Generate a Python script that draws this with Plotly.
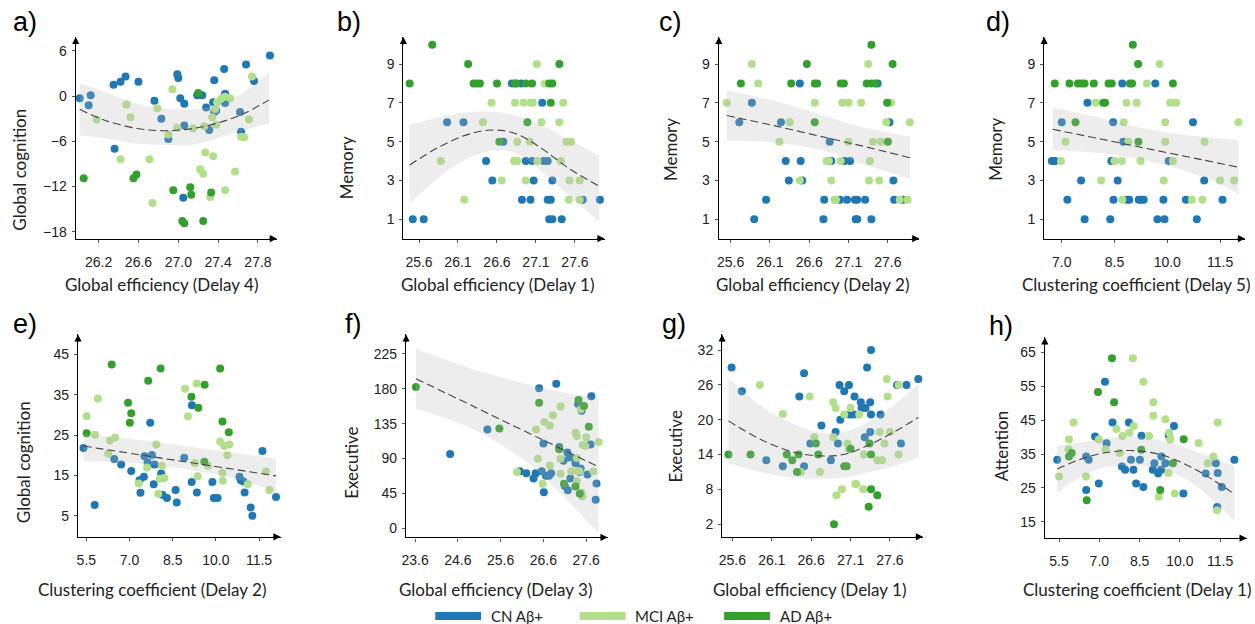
import plotly.graph_objects as go

W, H = 1255, 624
C_CN, C_MCI, C_AD = "#1f78b4", "#b2df8a", "#33a02c"

# ---------------- Panel a ----------------
a_cn_x = [26.01,26.10,26.12,26.35,26.42,26.47,26.60,26.36,26.76,26.83,26.90,26.99,27.00,27.02,27.06,27.06,27.05,27.19,27.24,27.28,27.31,27.35,27.36,27.36,27.46,27.47,27.47,27.62,27.63,27.68,27.76,27.92,27.38]
a_cn_y = [-0.3,-1.2,0.1,1.5,1.9,2.6,1.9,-7.0,-0.6,-3.0,-5.7,2.9,2.4,-0.3,-1.0,-3.9,-13.5,0.1,0.1,-1.5,-4.5,-0.8,2.1,-2.1,3.6,0.3,-0.9,-2.1,-4.75,4.2,2.0,5.4,-1.9]
a_mci_x = [26.18,26.48,26.52,26.42,26.71,26.74,26.79,26.90,26.94,26.99,27.15,27.22,27.25,27.26,27.27,27.32,27.34,27.35,27.37,27.38,27.39,27.43,27.47,27.52,27.57,27.47,27.63,27.66,27.71,27.74]
a_mci_y = [-3.1,-1.1,-2.8,-8.4,-8.4,-14.2,-1.6,-5.1,0.9,-4.2,-4.3,-9.7,-10.3,-4.0,-7.5,-13.4,-2.8,-8.0,-1.7,-3.8,-0.8,-0.4,-0.1,-0.3,-10.0,-12.5,-5.4,-5.5,-3.1,2.6]
a_ad_x = [26.05,26.55,26.58,26.95,27.04,27.06,27.12,27.13,27.20,27.25,27.33]
a_ad_y = [-10.9,-10.9,-10.4,-12.5,-16.6,-16.9,-12.1,-13.1,0.4,-16.6,-12.8]
a_fit_x = [26.01,26.26,26.59,26.86,27.12,27.39,27.66,27.91]
a_fit_y = [-1.74,-3.2,-4.3,-4.6,-4.35,-3.6,-2.3,-0.5]
a_hi = [1.66,0.56,-1.0,-1.65,-1.74,-1.2,0.56,3.1]
a_lo = [-5.2,-5.6,-6.3,-6.5,-6.5,-5.6,-4.5,-3.65]

# ---------------- Panel b ----------------
b_cn_x = [25.52,25.66,25.96,26.17,26.46,26.54,26.68,26.79,26.91,26.92,26.97,27.03,27.05,27.07,27.18,27.20,27.25,27.25,27.29,27.27,27.31,27.31,27.43,27.70,27.92]
b_cn_y = [1,1,6,6,4,3,5,8,8,2,4,2,4,3,7,4,4,2,2,1,1,3,1,2,2]
b_mci_x = [25.88,26.18,26.42,26.53,26.66,26.83,26.86,26.82,26.86,26.94,26.97,27.02,27.03,27.06,27.11,27.12,27.17,27.21,27.40,27.42,27.45,27.49,27.55,27.52,27.53,27.66,27.66]
b_mci_y = [4,2,6,7,3,7,5,4,4,7,3,5,7,7,9,4,6,8,6,4,7,5,5,2,3,2,3]
b_ad_x = [25.48,25.77,26.23,26.30,26.34,26.38,26.60,26.63,26.83,26.85,26.97,27.05,26.99,27.27,27.31,27.29,27.40]
b_ad_y = [8,10,9,8,8,8,8,5,8,8,8,8,6,8,8,7,9]
b_fit_x = [25.48,25.87,26.21,26.53,26.85,27.19,27.53,27.91]
b_fit_y = [3.8,4.75,5.35,5.6,5.4,4.6,3.6,2.7]
b_hi = [5.87,6.26,6.5,6.55,6.33,5.8,5.1,4.27]
b_lo = [1.8,3.2,4.1,4.55,4.4,3.4,2.2,0.9]

# ---------------- Panel c ----------------
c_cn_x = [25.71,25.87,25.90,26.05,26.24,26.30,26.34,26.48,26.49,26.51,26.78,26.79,26.86,26.88,26.99,27.05,27.12,27.08,27.18,27.21,27.19,27.21,27.31,27.39,27.47,27.62,27.67,27.68,27.79]
c_cn_y = [6,7,1,2,6,4,3,8,4,3,1,2,5,4,2,4,4,2,2,2,1,1,2,1,8,6,3,2,2]
c_mci_x = [25.55,25.87,25.95,26.22,26.35,26.48,26.67,26.82,26.85,26.88,26.92,26.94,27.00,27.02,27.10,27.10,27.26,27.35,27.36,27.37,27.41,27.49,27.51,27.58,27.64,27.75,27.85,27.88]
c_mci_y = [7,9,8,5,6,3,7,4,4,3,2,2,4,7,7,5,7,9,3,4,5,3,5,6,7,2,2,6]
c_ad_x = [25.73,26.37,26.57,26.67,26.70,26.67,27.00,27.04,27.33,27.39,27.44,27.39,27.59,27.60,27.66]
c_ad_y = [8,8,9,8,8,6,8,8,8,8,8,10,7,5,9]
c_fit_x = [25.55,26.19,26.82,27.24,27.88]
c_fit_y = [6.35,5.79,5.2,4.81,4.17]
c_hi = [7.64,7.07,6.3,5.78,5.27]
c_lo = [5.06,4.95,4.5,3.9,3.1]

# ---------------- Panel d ----------------
d_cn_x = [6.72,6.81,7.00,7.16,7.55,7.65,7.73,8.38,8.41,8.46,8.47,8.59,8.72,8.75,8.86,8.92,9.19,9.26,9.33,9.66,9.72,9.92,9.89,10.04,10.53,10.73,10.84,11.05,11.57]
d_cn_y = [4,4,6,2,3,1,7,1,4,6,2,3,8,5,2,2,2,2,2,8,1,1,2,4,2,6,1,3,2]
d_mci_x = [6.98,7.11,7.96,8.12,8.50,8.71,8.72,8.76,8.84,8.89,9.13,9.24,9.42,9.78,9.90,9.94,9.94,10.08,10.25,10.16,10.70,11.00,11.06,11.50,11.90,12.02]
d_mci_y = [4,5,7,3,4,4,2,6,7,5,7,4,8,9,3,6,5,7,7,4,2,2,5,3,3,6]
d_ad_x = [6.80,7.22,7.46,7.56,7.65,7.91,8.18,8.23,7.39,8.33,8.42,8.94,9.00,9.02,9.17,9.18,10.16]
d_ad_y = [8,8,8,8,8,8,7,7,6,8,8,8,8,10,9,5,8]
d_fit_x = [6.74,8.15,9.57,10.98,12.02]
d_fit_y = [5.64,5.12,4.59,4.07,3.68]
d_hi = [6.76,6.2,5.6,5.25,5.1]
d_lo = [4.56,4.4,3.95,3.2,2.3]

# ---------------- Panel e ----------------
e_cn_x = [5.40,5.79,6.47,6.71,7.06,7.35,7.38,7.50,7.52,7.63,7.72,7.78,7.84,7.87,8.10,8.14,8.30,8.60,8.64,8.90,9.17,9.16,9.34,9.88,9.93,10.06,10.82,10.87,11.00,10.96,11.21,11.27,11.62,12.09]
e_cn_y = [21.8,7.7,19.1,17.7,16.1,13.8,10.7,14.7,19.8,18.2,28.1,20.1,12.8,17.7,15.5,10.2,9.4,11.4,8.3,19.4,32.4,13.4,10.8,13.4,9.4,9.4,14.7,13.8,10.8,13.5,7.1,5.0,21.1,9.7]
e_mci_x = [5.51,5.80,5.90,6.26,6.32,6.50,7.32,7.61,7.93,8.00,8.05,8.12,8.21,8.93,9.03,9.27,9.33,9.37,9.73,10.15,10.23,10.24,10.29,10.47,10.40,11.11,11.74,11.86]
e_mci_y = [29.7,25.1,34.1,20.4,23.7,24.4,13.0,17.0,22.7,10.5,14.2,17.4,14.4,36.5,29.7,18.1,37.8,14.8,17.4,23.4,15.7,13.7,22.3,22.7,20.0,12.8,16.0,11.4]
e_ad_x = [5.51,6.38,6.95,7.01,7.06,7.65,8.08,9.15,9.39,9.61,9.60,10.15,10.23,10.45]
e_ad_y = [25.5,42.5,33.0,28.1,30.4,38.5,41.5,34.5,31.8,37.5,18.4,41.5,28.4,25.7]
e_fit_x = [5.40,7.29,9.02,10.75,12.09]
e_fit_y = [22.3,20.2,18.3,16.4,14.9]
e_hi = [25.2,23.8,22.2,20.5,19.2]
e_lo = [18.6,18.0,16.5,14.1,10.8]

# ---------------- Panel f ----------------
f_cn_x = [24.42,25.29,26.05,26.20,26.37,26.42,26.50,26.56,26.60,26.61,26.66,26.73,26.78,26.90,26.97,27.07,27.10,27.16,27.17,27.21,27.23,27.35,27.41,27.44,27.47,27.49,27.63,27.70,27.72,27.84,27.82]
f_cn_y = [96,127.3,73.7,71,64.3,71,180.4,73.7,109.3,46.7,67.7,67.7,71,186.4,105,87,54.8,97.7,49.3,91.3,64.3,84,160.3,72.8,77.1,151.7,69.4,108,170.1,57.8,36.8]
f_mci_x = [25.98,26.43,26.47,26.58,26.62,26.75,26.82,26.75,27.00,27.00,27.00,27.25,27.35,27.38,27.38,27.38,27.40,27.44,27.47,27.49,27.52,27.51,27.60,27.58,27.77,27.89]
f_mci_y = [72.8,127.3,89.6,57.4,137.1,132.4,145.7,81,156.9,89.6,70.3,73.7,123.4,119.1,90.8,61,73.7,73.7,153.4,46.3,107.6,41.1,117.4,106.3,73.3,111.4]
f_ad_x = [23.62,25.57,26.50,26.97,27.08,27.35,27.42,27.55,27.66,27.45]
f_ad_y = [182,128.6,162,102,57.4,54,165.4,157.7,131,44.5]
f_fit_x = [23.62,24.96,26.12,26.90,27.89]
f_fit_y = [192.9,157.3,126.4,105.7,79.2]
f_hi = [231.4,205,187,177,167]
f_lo = [154.3,127.7,89,50.6,-6]

# ---------------- Panel g ----------------
g_cn_x = [25.59,25.72,26.03,26.24,26.45,26.51,26.51,26.59,26.73,26.85,26.91,26.94,26.96,26.97,27.02,27.08,27.09,27.14,27.15,27.23,27.24,27.29,27.28,27.31,27.35,27.35,27.36,27.36,27.48,27.69,27.81,27.74,27.96]
g_cn_y = [29,24.9,13,12,24,28,12,15.9,19,13,17.9,15.9,26,20,24.9,26,20.9,20.9,24,23,22,22,17,29,17.9,23,32,20.9,20.9,26,26,15.9,27]
g_mci_x = [25.95,26.24,26.47,26.58,26.64,26.71,26.88,26.88,26.91,26.92,26.99,27.02,27.10,27.06,27.08,27.16,27.17,27.21,27.26,27.27,27.44,27.50,27.47,27.53,27.56,27.57,27.60,27.71,27.71]
g_mci_y = [26,21,11,24,17,11,17,23,22,7,8,20.9,22,15.9,15,8.9,8.9,20.9,8,14,13,13,17.9,15.9,27,24,17.9,14,26]
g_ad_x = [25.55,25.83,26.29,26.36,26.42,26.44,26.66,26.69,26.89,27.02,27.05,27.10,27.34,27.36,27.36,27.33,27.44]
g_ad_y = [14,14,14,13,11,14,15.9,14,2,12,12,15,15.9,14,8,5,7]
g_fit_x = [25.55,25.96,26.38,26.72,27.01,27.31,27.64,27.96]
g_fit_y = [19.8,16.6,14.4,13.76,14.0,15.5,17.8,20.4]
g_hi = [27.2,22.4,19.2,17.8,17.9,19.5,22.4,26.1]
g_lo = [12.5,11.0,10.0,9.85,10.0,10.9,12.0,13.5]

# ---------------- Panel h ----------------
h_cn_x = [5.43,6.51,6.51,6.60,6.84,6.98,7.21,7.27,7.49,7.84,7.96,8.10,8.18,8.27,8.37,8.51,8.57,8.64,8.99,9.05,9.19,9.31,9.46,9.78,9.58,10.13,10.96,11.34,11.41,11.39,11.56,12.03,9.30]
h_cn_y = [33.3,34.3,24.4,33.3,40.2,26.3,56.3,38.2,44.3,31.3,30.4,44.3,33.3,30.4,26.3,33.3,40.4,25.3,30.4,32.3,29.3,34.3,32.3,43.3,40.6,23.4,29.3,32.3,29.4,19.4,25.3,33.3,30.4]
h_mci_x = [5.50,5.87,5.85,6.04,6.50,6.98,7.23,7.64,7.76,7.86,8.12,8.25,8.28,8.64,8.85,9.01,9.01,9.21,9.46,9.57,9.60,9.64,9.81,10.70,11.04,11.25,11.41,11.38]
h_mci_y = [28.4,39.3,36.4,44.3,28.4,39.3,36.4,42.4,35.3,40.3,41.3,63.3,43.3,56.3,40.3,50.3,46.3,22.4,45.3,29.4,41.3,39.3,23.4,38.3,32.3,34.3,44.3,18.4]
h_ad_x = [5.87,5.97,6.53,6.95,7.47,7.55,8.56,9.27,9.74,10.14]
h_ad_y = [34.3,35.3,21.4,53.3,63.3,50.3,36.3,24.4,32.3,39.4]
h_fit_x = [5.43,6.49,7.48,8.35,9.34,10.33,11.19,12.03]
h_fit_y = [30.6,34.0,35.7,36.0,34.7,31.5,27.6,23.2]
h_hi = [37.4,38.6,39.9,40.1,38.9,36.5,34.0,31.5]
h_lo = [23.5,29.1,31.5,31.5,30.6,27.1,21.7,15.3]

# tick values
ticks_ge = [25.6, 26.1, 26.6, 27.1, 27.6]
ticks_a_x = [26.2, 26.6, 27.0, 27.4, 27.8]
ticks_cc = [5.5, 7.0, 8.5, 10.0, 11.5]
ticks_d_x = [7.0, 8.5, 10.0, 11.5]
ticks_f_x = [23.6, 24.6, 25.6, 26.6, 27.6]
ticks_mem = [1, 3, 5, 7, 9]
ticks_a_y = [-18, -12, -6, 0, 6]
ticks_e_y = [5, 15, 25, 35, 45]
ticks_f_y = [0, 45, 90, 135, 180, 225]
ticks_g_y = [2, 8, 14, 20, 26, 32]
ticks_h_y = [15, 25, 35, 45, 55, 65]

legend_names = ["CN Aβ+", "MCI Aβ+", "AD Aβ+"]

panels = [
    dict(lab="a)", cn=(a_cn_x, a_cn_y), mci=(a_mci_x, a_mci_y), ad=(a_ad_x, a_ad_y),
         fit=(a_fit_x, a_fit_y, a_lo, a_hi), dx=(71, 273), dy=(37, 239),
         xr=[25.97, 27.99], yr=[-18.93, 7.86], xt=ticks_a_x, yt=ticks_a_y,
         xtitle="Global efficiency (Delay 4)", ytitle="Global cognition",
         labpos=(20, 22), xtp=(157, 285), ytp=(15, 170)),
    dict(lab="b)", cn=(b_cn_x, b_cn_y), mci=(b_mci_x, b_mci_y), ad=(b_ad_x, b_ad_y),
         fit=(b_fit_x, b_fit_y, b_lo, b_hi), dx=(400, 602), dy=(37, 239),
         xr=[25.4, 27.98], yr=[0, 10.4], xt=ticks_ge, yt=ticks_mem,
         xtitle="Global efficiency (Delay 1)", ytitle="Memory",
         labpos=(345, 22), xtp=(494, 285), ytp=(343, 168)),
    dict(lab="c)", cn=(c_cn_x, c_cn_y), mci=(c_mci_x, c_mci_y), ad=(c_ad_x, c_ad_y),
         fit=(c_fit_x, c_fit_y, c_lo, c_hi), dx=(716.7, 918), dy=(37, 239),
         xr=[25.45, 28.0], yr=[0, 10.4], xt=ticks_ge, yt=ticks_mem,
         xtitle="Global efficiency (Delay 2)", ytitle="Memory",
         labpos=(668, 22), xtp=(811, 285), ytp=(668, 150)),
    dict(lab="d)", cn=(d_cn_x, d_cn_y), mci=(d_mci_x, d_mci_y), ad=(d_ad_x, d_ad_y),
         fit=(d_fit_x, d_fit_y, d_lo, d_hi), dx=(1043.3, 1245), dy=(37, 239),
         xr=[6.5, 12.21], yr=[0, 10.4], xt=ticks_d_x, yt=ticks_mem,
         xtitle="Clustering coefficient (Delay 5)", ytitle="Memory",
         labpos=(997, 22), xtp=(1136, 285), ytp=(995, 150)),
    dict(lab="e)", cn=(e_cn_x, e_cn_y), mci=(e_mci_x, e_mci_y), ad=(e_ad_x, e_ad_y),
         fit=(e_fit_x, e_fit_y, e_lo, e_hi), dx=(73.3, 276.7), dy=(335, 537.7),
         xr=[5.21, 12.25], yr=[-0.2, 49.95], xt=ticks_cc, yt=ticks_e_y,
         xtitle="Clustering coefficient (Delay 2)", ytitle="Global cognition",
         labpos=(20, 325), xtp=(148, 590), ytp=(18, 463)),
    dict(lab="f)", cn=(f_cn_x, f_cn_y), mci=(f_mci_x, f_mci_y), ad=(f_ad_x, f_ad_y),
         fit=(f_fit_x, f_fit_y, f_lo, f_hi), dx=(402.7, 605), dy=(335, 538.3),
         xr=[23.39, 28.1], yr=[-11.6, 249.8], xt=ticks_f_x, yt=ticks_f_y,
         xtitle="Global efficiency (Delay 3)", ytitle="Executive",
         labpos=(350, 325), xtp=(492, 590), ytp=(348, 464)),
    dict(lab="g)", cn=(g_cn_x, g_cn_y), mci=(g_mci_x, g_mci_y), ad=(g_ad_x, g_ad_y),
         fit=(g_fit_x, g_fit_y, g_lo, g_hi), dx=(720, 921.7), dy=(335, 537.7),
         xr=[25.47, 28.02], yr=[-0.19, 34.7], xt=ticks_ge, yt=ticks_g_y,
         xtitle="Global efficiency (Delay 1)", ytitle="Executive",
         labpos=(672, 325), xtp=(808, 590), ytp=(673, 447)),
    dict(lab="h)", cn=(h_cn_x, h_cn_y), mci=(h_mci_x, h_mci_y), ad=(h_ad_x, h_ad_y),
         fit=(h_fit_x, h_fit_y, h_lo, h_hi), dx=(1044, 1246.7), dy=(338, 539),
         xr=[4.97, 12.49], yr=[10.2, 69.4], xt=ticks_cc, yt=ticks_h_y,
         xtitle="Clustering coefficient (Delay 1)", ytitle="Attention",
         labpos=(1000, 327), xtp=(1137, 590), ytp=(1000, 447)),
]

def px(x):
    return x / W

def py(y):
    return 1 - y / H

fig = go.Figure()
layout = dict(width=W, height=H, margin=dict(l=0, r=0, t=0, b=0),
              paper_bgcolor="white", plot_bgcolor="rgba(0,0,0,0)",
              showlegend=False, autosize=False)
annotations = []
shapes = []
tickfont = dict(family="Liberation Sans, Arial, sans-serif", size=14, color="#222")
titlefont = dict(family="Lato, sans-serif", size=17, color="#222")

for i, p in enumerate(panels, start=1):
    xn = "x" if i == 1 else f"x{i}"
    yn = "y" if i == 1 else f"y{i}"
    for (xs, ys), col in ((p["cn"], C_CN), (p["mci"], C_MCI), (p["ad"], C_AD)):
        fig.add_trace(go.Scatter(x=xs, y=ys, mode="markers", xaxis=xn, yaxis=yn,
                                 marker=dict(size=8, color=col, line=dict(width=0)),
                                 hoverinfo="skip"))
    fx, fy, lo, hi = p["fit"]
    fig.add_trace(go.Scatter(x=fx, y=lo, mode="lines", xaxis=xn, yaxis=yn,
                             line=dict(width=0, shape="spline"), hoverinfo="skip"))
    fig.add_trace(go.Scatter(x=fx, y=hi, mode="lines", xaxis=xn, yaxis=yn, fill="tonexty",
                             fillcolor="rgba(185,185,185,0.25)",
                             line=dict(width=0, shape="spline"), hoverinfo="skip"))
    fig.add_trace(go.Scatter(x=fx, y=fy, mode="lines", xaxis=xn, yaxis=yn,
                             line=dict(width=1.1, color="#444", dash="8px,4px", shape="spline"),
                             hoverinfo="skip"))
    layout["xaxis" if i == 1 else f"xaxis{i}"] = dict(
        domain=[px(p["dx"][0]), px(p["dx"][1])], anchor=yn, range=p["xr"],
        tickvals=p["xt"], tickformat=".1f", showgrid=False, zeroline=False,
        showline=True, linecolor="black", linewidth=1.3, ticks="outside",
        ticklen=3, tickwidth=1, tickcolor="#555", tickfont=tickfont,
        ticklabelstandoff=7, fixedrange=True)
    layout["yaxis" if i == 1 else f"yaxis{i}"] = dict(
        domain=[py(p["dy"][1]), py(p["dy"][0])], anchor=xn, range=p["yr"],
        tickvals=p["yt"], showgrid=False, zeroline=False,
        showline=True, linecolor="black", linewidth=1.3, ticks="outside",
        ticklen=3, tickwidth=1, tickcolor="#555", tickfont=tickfont,
        ticklabelstandoff=2, fixedrange=True)
    # axis arrows
    annotations.append(dict(xref=f"{xn} domain", yref=f"{yn} domain", x=1, y=0,
                            ax=-9, ay=0, showarrow=True, arrowhead=2, arrowsize=1.1,
                            arrowwidth=1.3, arrowcolor="black", text=""))
    annotations.append(dict(xref=f"{xn} domain", yref=f"{yn} domain", x=0, y=1,
                            ax=0, ay=9, showarrow=True, arrowhead=2, arrowsize=1.1,
                            arrowwidth=1.3, arrowcolor="black", text=""))
    # titles
    annotations.append(dict(xref="paper", yref="paper", x=px(p["xtp"][0]), y=py(p["xtp"][1]),
                            text=p["xtitle"], showarrow=False, font=titlefont,
                            xanchor="center", yanchor="middle"))
    annotations.append(dict(xref="paper", yref="paper", x=px(p["ytp"][0]), y=py(p["ytp"][1]),
                            text=p["ytitle"], showarrow=False, font=titlefont, textangle=-90,
                            xanchor="center", yanchor="middle"))
    annotations.append(dict(xref="paper", yref="paper", x=px(p["labpos"][0]), y=py(p["labpos"][1]),
                            text=p["lab"], showarrow=False,
                            font=dict(family="Liberation Sans, Arial, sans-serif", size=27, color="black"),
                            xanchor="center", yanchor="middle"))

# legend (drawn as swatches + labels)
leg_x = [432, 577, 722]
for lx, col, name in zip(leg_x, (C_CN, C_MCI, C_AD), legend_names):
    shapes.append(dict(type="rect", xref="paper", yref="paper",
                       x0=px(lx), x1=px(lx + 46), y0=py(621), y1=py(613),
                       fillcolor=col, line=dict(width=0)))
    annotations.append(dict(xref="paper", yref="paper", x=px(lx + 54), y=py(617),
                            text=name, showarrow=False, xanchor="left", yanchor="middle",
                            font=dict(family="Lato, sans-serif", size=15, color="#222")))

layout["annotations"] = annotations
layout["shapes"] = shapes
fig.update_layout(**layout)
fig.write_html("out.html", config={"displayModeBar": False},
               post_script="document.body.style.margin='0';document.body.style.overflow='hidden';")
